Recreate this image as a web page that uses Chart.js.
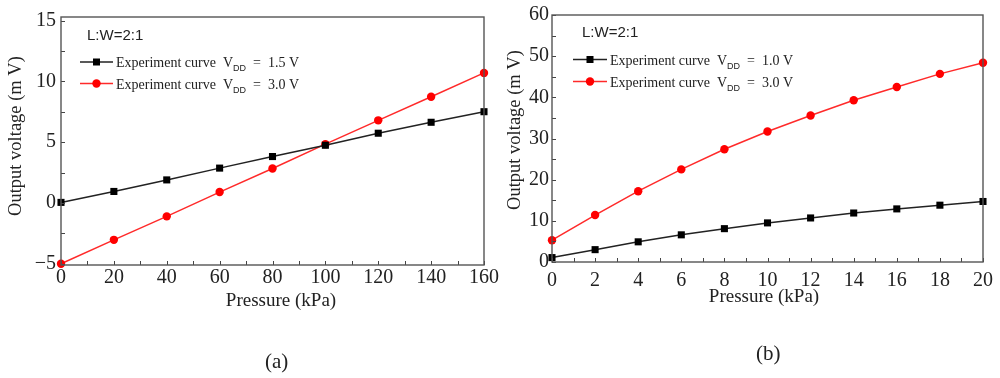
<!DOCTYPE html>
<html><head><meta charset="utf-8">
<script src="https://cdn.jsdelivr.net/npm/chart.js@4.4.1/dist/chart.umd.min.js"></script>
<style>
body{margin:0;background:#fff;width:1000px;height:378px;overflow:hidden;position:relative;}
.wrap{position:absolute;top:0;width:500px;height:378px;}
.cap{position:absolute;font:21px "Liberation Serif",serif;color:#222;line-height:24px;}
</style></head><body>
<div class="wrap" style="left:0"><canvas id="ca" width="500" height="378"></canvas></div>
<div class="wrap" style="left:500px"><canvas id="cb" width="500" height="378"></canvas></div>
<div class="cap" style="left:265px;top:349px">(a)</div>
<div class="cap" style="left:756px;top:341px">(b)</div>
<script>
// ---- data (a) ----
const pressureA = [0, 20, 40, 60, 80, 100, 120, 140, 160];
const vdd15A = [0.05, 0.95, 1.9, 2.87, 3.82, 4.75, 5.74, 6.64, 7.51];
const vdd30A = [-5.0, -3.03, -1.1, 0.9, 2.84, 4.84, 6.8, 8.74, 10.7];
const xTicksA = [0, 20, 40, 60, 80, 100, 120, 140, 160];
const yTicksA = [-5, 0, 5, 10, 15];
// ---- data (b) ----
const pressureB = [0, 2, 4, 6, 8, 10, 12, 14, 16, 18, 20];
const vdd10B = [1.07, 3.0, 4.9, 6.6, 8.1, 9.5, 10.7, 11.9, 12.9, 13.8, 14.7];
const vdd30B = [5.3, 11.4, 17.2, 22.5, 27.4, 31.7, 35.6, 39.3, 42.5, 45.7, 48.4];
const xTicksB = [0, 2, 4, 6, 8, 10, 12, 14, 16, 18, 20];
const yTicksB = [0, 10, 20, 30, 40, 50, 60];
// ---- text ----
const labelsA = ['Experiment curve  V_{DD}  =  1.5 V', 'Experiment curve  V_{DD}  =  3.0 V'];
const labelsB = ['Experiment curve  V_{DD}  =  1.0 V', 'Experiment curve  V_{DD}  =  3.0 V'];
const ratioText = 'L:W=2:1';
const xTitle = 'Pressure (kPa)';
const yTitle = 'Output voltage (m V)';

const SERIF = '"Liberation Serif", "Times New Roman", serif';
const SANS = '"Liberation Sans", Arial, sans-serif';

const deco = {
  id: 'deco',
  afterDraw(chart, args, o) {
    const {ctx, chartArea: a, scales: {x, y}} = chart;
    ctx.save();
    // inward ticks
    ctx.strokeStyle = '#444'; ctx.lineWidth = 1;
    const i0 = Math.ceil(x.min / o.xMinor - 1e-9), i1 = Math.floor(x.max / o.xMinor + 1e-9);
    for (let i = i0; i <= i1; i++) {
      const px = Math.round(x.getPixelForValue(i * o.xMinor)) + 0.5;
      ctx.beginPath(); ctx.moveTo(px, a.bottom); ctx.lineTo(px, a.bottom - 4); ctx.stroke();
    }
    const j0 = Math.ceil(y.min / o.yMinor - 1e-9), j1 = Math.floor(y.max / o.yMinor + 1e-9);
    for (let j = j0; j <= j1; j++) {
      const py = Math.round(y.getPixelForValue(j * o.yMinor)) + 0.5;
      ctx.beginPath(); ctx.moveTo(a.left, py); ctx.lineTo(a.left + 4, py); ctx.stroke();
    }
    // frame
    ctx.strokeStyle = '#555'; ctx.lineWidth = 1.4;
    ctx.strokeRect(a.left, a.top, a.right - a.left, a.bottom - a.top);
    // titles
    ctx.fillStyle = '#222';
    ctx.font = '19px ' + SERIF; ctx.textAlign = 'center'; ctx.textBaseline = 'middle';
    ctx.fillText(xTitle, o.xTitle[0], o.xTitle[1]);
    ctx.save();
    ctx.translate(o.yTitle[0], o.yTitle[1]); ctx.rotate(-Math.PI / 2);
    ctx.font = '18.5px ' + SERIF;
    ctx.fillText(yTitle, 0, 0);
    ctx.restore();
    // ratio text
    ctx.font = '15px ' + SANS; ctx.textAlign = 'left';
    ctx.fillText(ratioText, o.ratio[0], o.ratio[1]);
    // legend
    chart.data.datasets.forEach((ds, k) => {
      const ly = o.leg.y0 + k * o.leg.dy;
      ctx.strokeStyle = ds.borderColor; ctx.lineWidth = 1.5;
      ctx.beginPath(); ctx.moveTo(o.leg.x0, ly); ctx.lineTo(o.leg.x1, ly); ctx.stroke();
      const mx = (o.leg.x0 + o.leg.x1) / 2;
      ctx.fillStyle = ds.pointBackgroundColor;
      if (ds.pointStyle === 'rect') { ctx.fillRect(mx - 3.5, ly - 3.5, 7, 7); }
      else { ctx.beginPath(); ctx.arc(mx, ly, 4.2, 0, Math.PI * 2); ctx.fill(); }
      const m = ds.label.match(/^(.*)_\{(.*?)\}(.*)$/);
      let tx = o.leg.x1 + 3;
      ctx.fillStyle = '#222'; ctx.textBaseline = 'alphabetic';
      ctx.font = '14px ' + SERIF;
      ctx.fillText(m[1], tx, ly + 5); tx += ctx.measureText(m[1]).width;
      ctx.font = '9px ' + SANS;
      ctx.fillText(m[2], tx, ly + 9); tx += ctx.measureText(m[2]).width;
      ctx.font = '14px ' + SERIF;
      ctx.fillText(m[3], tx, ly + 5);
    });
    ctx.restore();
  }
};

function makeChart(id, xs, series, xt, yt, sc) {
  return new Chart(document.getElementById(id), {
    type: 'line',
    data: {
      datasets: series.map(s => ({
        label: s.label,
        data: xs.map((xv, i) => ({x: xv, y: s.values[i]})),
        borderColor: s.line, backgroundColor: s.marker,
        pointBackgroundColor: s.marker, pointBorderColor: s.marker,
        pointStyle: s.style, pointRadius: s.r, pointBorderWidth: 0,
        borderWidth: 1.5, tension: 0, clip: false
      }))
    },
    options: {
      responsive: false, animation: false,
      layout: {padding: sc.pad},
      plugins: {legend: {display: false}, tooltip: {enabled: false}, deco: sc.deco},
      scales: {
        x: {
          type: 'linear', min: sc.xMin, max: sc.xMax,
          afterBuildTicks: s => { s.ticks = xt.map(v => ({value: v})); },
          afterFit: s => { s.height = sc.xH; },
          grid: {display: false, drawTicks: false}, border: {display: false},
          ticks: {font: {family: SERIF, size: 20}, color: '#222', padding: sc.xPad, maxRotation: 0, autoSkip: false}
        },
        y: {
          type: 'linear', min: sc.yMin, max: sc.yMax,
          afterBuildTicks: s => { s.ticks = yt.map(v => ({value: v})); },
          afterFit: s => { s.width = sc.yW; },
          grid: {display: false, drawTicks: false}, border: {display: false},
          ticks: {font: {family: SERIF, size: 20}, color: '#222', padding: sc.yPad, autoSkip: false,
                  callback: v => String(v).replace('-', '\u2212')}
        }
      }
    },
    plugins: [deco]
  });
}

makeChart('ca', pressureA, [
  {label: labelsA[0], values: vdd15A, line: '#222', marker: '#000', style: 'rect', r: 5},
  {label: labelsA[1], values: vdd30A, line: '#ff2a2a', marker: '#ff0000', style: 'circle', r: 4.2}
], xTicksA, yTicksA, {
  pad: {left: 0, top: 17, right: 15, bottom: 83}, xH: 30, yW: 61,
  xMin: 0, xMax: 160, yMin: -5.1, yMax: 15.3, xPad: 1, yPad: 5,
  deco: {xMinor: 10, yMinor: 2.5, xTitle: [281, 301], yTitle: [16, 136], ratio: [87, 36],
         leg: {x0: 80, x1: 113, y0: 62, dy: 21.5}}
});

makeChart('cb', pressureB, [
  {label: labelsB[0], values: vdd10B, line: '#222', marker: '#000', style: 'rect', r: 5},
  {label: labelsB[1], values: vdd30B, line: '#ff2a2a', marker: '#ff0000', style: 'circle', r: 4.2}
], xTicksB, yTicksB, {
  pad: {left: 0, top: 15, right: 16, bottom: 86}, xH: 30, yW: 52,
  xMin: 0, xMax: 20, yMin: 0, yMax: 60, xPad: 7, yPad: 3,
  deco: {xMinor: 1, yMinor: 5, xTitle: [264, 297], yTitle: [15, 130], ratio: [82, 33],
         leg: {x0: 73, x1: 107, y0: 59.5, dy: 22}}
});
</script>
</body></html>
